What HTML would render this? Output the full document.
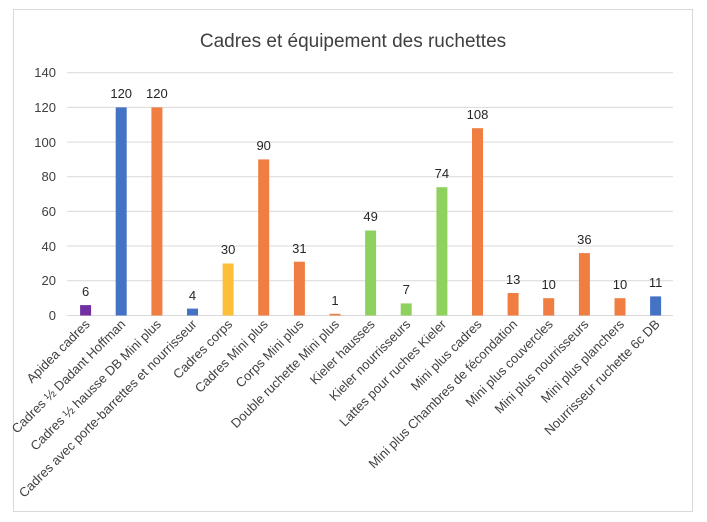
<!DOCTYPE html>
<html><head><meta charset="utf-8"><style>
html,body{margin:0;padding:0;background:#fff;}
svg{display:block;font-family:"Liberation Sans",sans-serif;}
</style></head><body>
<svg width="707" height="522" viewBox="0 0 707 522" xmlns="http://www.w3.org/2000/svg">
<rect x="13.5" y="9.5" width="679" height="502" fill="#fff" stroke="#d9d9d9"/>
<text x="353" y="47" text-anchor="middle" font-size="19" fill="#404040">Cadres et équipement des ruchettes</text>
<g stroke="#d9d9d9" stroke-width="1">
<line x1="67" x2="673" y1="72.7" y2="72.7"/>
<line x1="67" x2="673" y1="107.4" y2="107.4"/>
<line x1="67" x2="673" y1="142.1" y2="142.1"/>
<line x1="67" x2="673" y1="176.7" y2="176.7"/>
<line x1="67" x2="673" y1="211.4" y2="211.4"/>
<line x1="67" x2="673" y1="246.0" y2="246.0"/>
<line x1="67" x2="673" y1="280.7" y2="280.7"/>
<line x1="67" x2="673" y1="315.5" y2="315.5"/>
</g>
<g font-size="13" fill="#404040" text-anchor="end">
<text x="56" y="77">140</text><text x="56" y="112">120</text><text x="56" y="147">100</text>
<text x="56" y="181">80</text><text x="56" y="216">60</text><text x="56" y="251">40</text>
<text x="56" y="285">20</text><text x="56" y="320">0</text>
</g>
<g>
<rect x="80.1" y="305.1" width="11" height="10.4" fill="#7030a0"/>
<rect x="115.7" y="107.4" width="11" height="208.1" fill="#4472c4"/>
<rect x="151.4" y="107.4" width="11" height="208.1" fill="#f07d41"/>
<rect x="187.0" y="308.6" width="11" height="6.9" fill="#4472c4"/>
<rect x="222.6" y="263.5" width="11" height="52.0" fill="#fdbe3a"/>
<rect x="258.2" y="159.4" width="11" height="156.1" fill="#f07d41"/>
<rect x="293.9" y="261.7" width="11" height="53.8" fill="#f07d41"/>
<rect x="329.5" y="313.8" width="11" height="1.7" fill="#f07d41"/>
<rect x="365.1" y="230.5" width="11" height="85.0" fill="#8fd15f"/>
<rect x="400.7" y="303.4" width="11" height="12.1" fill="#8fd15f"/>
<rect x="436.4" y="187.2" width="11" height="128.3" fill="#8fd15f"/>
<rect x="472.0" y="128.2" width="11" height="187.3" fill="#f07d41"/>
<rect x="507.6" y="293.0" width="11" height="22.5" fill="#f07d41"/>
<rect x="543.2" y="298.2" width="11" height="17.3" fill="#f07d41"/>
<rect x="578.9" y="253.1" width="11" height="62.4" fill="#f07d41"/>
<rect x="614.5" y="298.2" width="11" height="17.3" fill="#f07d41"/>
<rect x="650.1" y="296.4" width="11" height="19.1" fill="#4472c4"/>
</g>
<g font-size="13" fill="#262626" text-anchor="middle">
<text x="85.6" y="296">6</text>
<text x="121.2" y="98">120</text>
<text x="156.9" y="98">120</text>
<text x="192.5" y="300">4</text>
<text x="228.1" y="254">30</text>
<text x="263.7" y="150">90</text>
<text x="299.4" y="253">31</text>
<text x="335.0" y="305">1</text>
<text x="370.6" y="221">49</text>
<text x="406.2" y="294">7</text>
<text x="441.9" y="178">74</text>
<text x="477.5" y="119">108</text>
<text x="513.1" y="284">13</text>
<text x="548.7" y="289">10</text>
<text x="584.4" y="244">36</text>
<text x="620.0" y="289">10</text>
<text x="655.6" y="287">11</text>
</g>
<g font-size="13" fill="#404040" text-anchor="end">
<text transform="translate(90.6,325) rotate(-45)">Apidea cadres</text>
<text transform="translate(126.2,325) rotate(-45)">Cadres ½ Dadant Hoffman</text>
<text transform="translate(161.9,325) rotate(-45)">Cadres ½ hausse DB Mini plus</text>
<text transform="translate(197.5,325) rotate(-45)">Cadres avec porte-barrettes et nourrisseur</text>
<text transform="translate(233.1,325) rotate(-45)">Cadres corps</text>
<text transform="translate(268.7,325) rotate(-45)">Cadres Mini plus</text>
<text transform="translate(304.4,325) rotate(-45)">Corps Mini plus</text>
<text transform="translate(340.0,325) rotate(-45)">Double ruchette Mini plus</text>
<text transform="translate(375.6,325) rotate(-45)">Kieler hausses</text>
<text transform="translate(411.2,325) rotate(-45)">Kieler nourrisseurs</text>
<text transform="translate(446.9,325) rotate(-45)">Lattes pour ruches Kieler</text>
<text transform="translate(482.5,325) rotate(-45)">Mini plus cadres</text>
<text transform="translate(518.1,325) rotate(-45)">Mini plus Chambres de fécondation</text>
<text transform="translate(553.7,325) rotate(-45)">Mini plus couvercles</text>
<text transform="translate(589.4,325) rotate(-45)">Mini plus nourrisseurs</text>
<text transform="translate(625.0,325) rotate(-45)">Mini plus planchers</text>
<text transform="translate(660.6,325) rotate(-45)">Nourrisseur ruchette 6c DB</text>
</g>
</svg>
</body></html>
